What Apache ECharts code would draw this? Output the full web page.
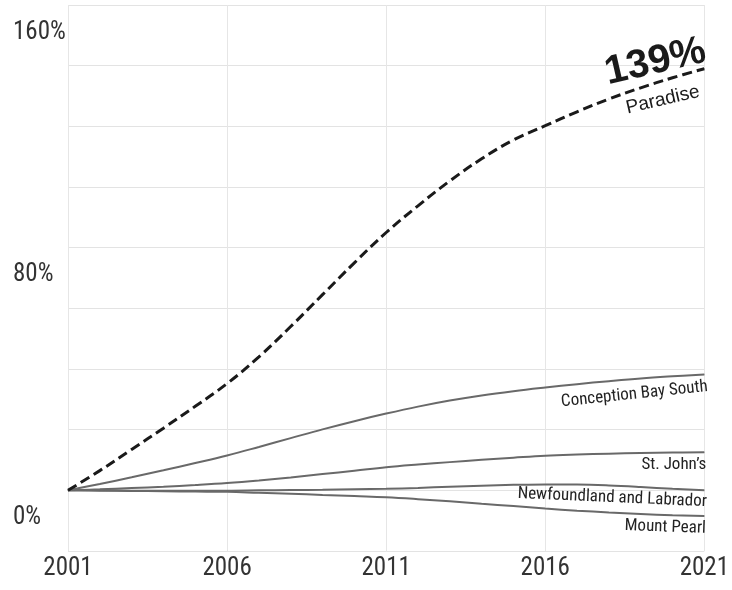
<!DOCTYPE html>
<html>
<head>
<meta charset="utf-8">
<script src="https://cdn.jsdelivr.net/npm/echarts@6/dist/echarts.min.js"></script>
<style>
  html, body { margin: 0; padding: 0; background: #fff; }
  #chart { width: 732px; height: 590px; }
</style>
</head>
<body>
<div id="chart"></div>
<script>
// Years (x axis), labelled every 5 years
const years = ['2001','2002','2003','2004','2005','2006','2007','2008','2009','2010','2011',
               '2012','2013','2014','2015','2016','2017','2018','2019','2020','2021'];
// Population change since 2001, percent
const paradise = [0, 6.5, 13.5, 20.5, 27.7, 35.2, 44, 54, 64.5, 75, 85, 93.8, 102, 109.3, 115.5, 120.2, 124.8, 129, 132.7, 136, 139];
const conceptionBaySouth = [0, 2.1, 4.3, 6.6, 9.0, 11.5, 14.3, 17.2, 20.1, 22.8, 25.3, 27.6, 29.6, 31.3, 32.7, 33.9, 35, 36, 36.9, 37.6, 38.2];
const stJohns = [0, 0.35, 0.75, 1.2, 1.75, 2.4, 3.25, 4.25, 5.35, 6.45, 7.6, 8.5, 9.3, 10.05, 10.75, 11.4, 11.8, 12.1, 12.3, 12.45, 12.55];
const newfoundlandLabrador = [0, 0, -0.1, -0.1, -0.1, -0.1, 0, 0.1, 0.2, 0.35, 0.5, 0.8, 1.2, 1.55, 1.8, 1.95, 1.9, 1.6, 1.1, 0.5, 0];
const mountPearl = [0, -0.1, -0.2, -0.3, -0.4, -0.5, -0.8, -1.1, -1.5, -1.9, -2.3, -2.9, -3.6, -4.4, -5.2, -6.0, -6.7, -7.3, -7.8, -8.2, -8.5];
// Y tick labels shown
const yTickLabels = [0, 80, 160];
const paradiseEndText = '139%';

const COND = "'Liberation Sans Narrow', 'Roboto Condensed', 'DejaVu Sans Condensed', 'Liberation Sans', sans-serif";
const SANS = "'Liberation Sans', Arial, Helvetica, sans-serif";
const GRAY = '#696969';

function withEndLabel(arr, label) {
  return arr.map((v, i) => i === arr.length - 1 ? { value: v, label: Object.assign({ show: true }, label) } : v);
}

const nameLabel = (text, rotate, offset) => ({
  formatter: text,
  position: 'inside',
  align: 'right',
  verticalAlign: 'top',
  rotate: rotate,
  offset: offset,
  fontFamily: COND,
  fontSize: 17,
  color: '#222'
});

const chart = echarts.init(document.getElementById('chart'), null, { renderer: 'canvas' });

const baseSeries = {
  type: 'line',
  smooth: 0.4,
  showSymbol: true,
  symbol: 'circle',
  symbolSize: 0.5,
  silent: true,
  animation: false,
  label: { show: false }
};

chart.setOption({
  animation: false,
  grid: { left: 68, right: 25, top: 5, bottom: 39, containLabel: false },
  xAxis: {
    type: 'category',
    data: years,
    boundaryGap: false,
    axisLine: { show: false },
    axisTick: { show: false },
    splitLine: { show: true, interval: 4, lineStyle: { color: '#e6e6e6', width: 1 } },
    axisLabel: { interval: 4, margin: 5, fontFamily: COND, fontSize: 25, color: '#333' }
  },
  yAxis: {
    type: 'value',
    min: -20,
    max: 160,
    interval: 20,
    axisLine: { show: false },
    axisTick: { show: false },
    splitLine: { show: true, lineStyle: { color: '#e3e3e3', width: 1 } },
    axisLabel: {
      margin: 55,
      align: 'left',
      verticalAlign: 'top',
      padding: [15, 0, 0, 0],
      fontFamily: COND,
      fontSize: 25,
      color: '#333',
      formatter: v => yTickLabels.indexOf(v) >= 0 ? v + '%' : ''
    }
  },
  series: [
    Object.assign({}, baseSeries, {
      name: 'Mount Pearl',
      data: withEndLabel(mountPearl, nameLabel('Mount Pearl', -2, [2, 4])),
      lineStyle: { color: GRAY, width: 2 },
      itemStyle: { color: GRAY }
    }),
    Object.assign({}, baseSeries, {
      name: 'Newfoundland and Labrador',
      data: withEndLabel(newfoundlandLabrador, nameLabel('Newfoundland and Labrador', -2.5, [3, 3])),
      lineStyle: { color: GRAY, width: 2 },
      itemStyle: { color: GRAY }
    }),
    Object.assign({}, baseSeries, {
      name: "St. John's",
      data: withEndLabel(stJohns, nameLabel("St. John’s", 0, [2, 4])),
      lineStyle: { color: GRAY, width: 2 },
      itemStyle: { color: GRAY }
    }),
    Object.assign({}, baseSeries, {
      name: 'Conception Bay South',
      data: withEndLabel(conceptionBaySouth, nameLabel('Conception Bay South', 6, [2, 4])),
      lineStyle: { color: GRAY, width: 2 },
      itemStyle: { color: GRAY }
    }),
    Object.assign({}, baseSeries, {
      name: 'Paradise',
      z: 5,
      data: withEndLabel(paradise, {
        formatter: '{a|' + paradiseEndText + '}\n{b|Paradise}',
        position: 'inside',
        align: 'right',
        verticalAlign: 'middle',
        rotate: 13,
        offset: [5, -7],
        rich: {
          a: { fontFamily: SANS, fontWeight: 'bold', fontSize: 40, lineHeight: 38, color: '#1a1a1a', padding: [0, 0, 0, 0] },
          b: { fontFamily: SANS, fontSize: 19, lineHeight: 21, color: '#1a1a1a', padding: [18, 15, 0, 0] }
        }
      }),
      lineStyle: { color: '#1a1a1a', width: 3, type: [10, 5] },
      itemStyle: { color: '#1a1a1a' }
    })
  ]
});
</script>
</body>
</html>
